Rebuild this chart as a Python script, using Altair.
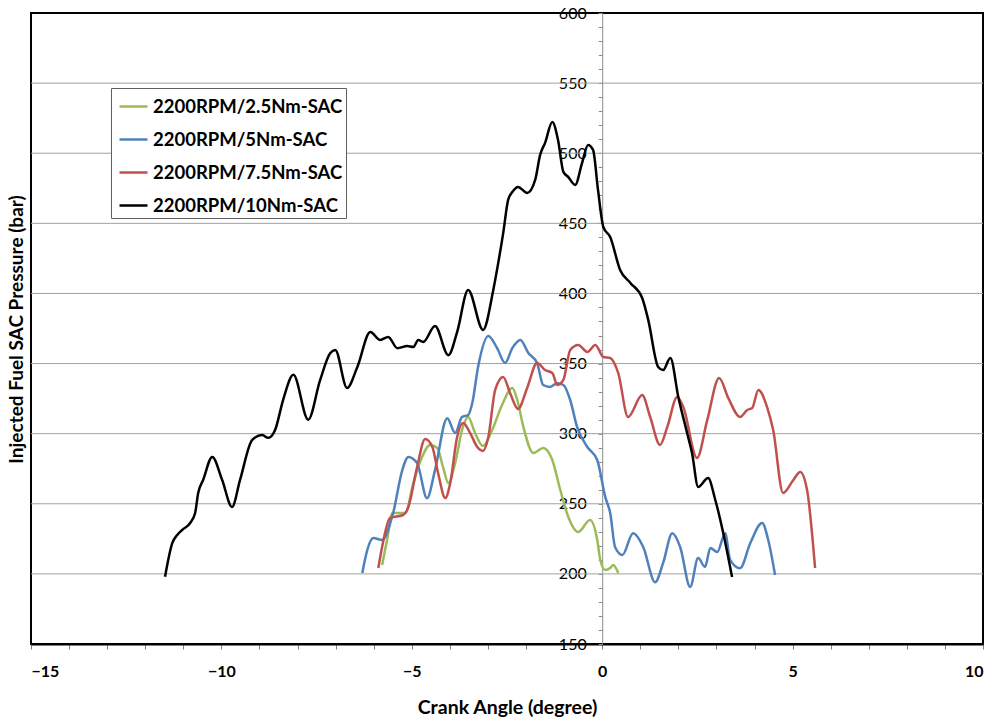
import altair as alt
import pandas as pd

SERIES = ["2200RPM/2.5Nm-SAC", "2200RPM/5Nm-SAC", "2200RPM/7.5Nm-SAC", "2200RPM/10Nm-SAC"]
COLORS = ["#9BBB59", "#4F81BD", "#C0504D", "#000000"]

green_x = [-5.78, -5.65, -5.51, -5.36, -5.17, -4.96, -4.73, -4.52, -4.33, -4.18, -4.04, -3.86, -3.68, -3.52,
           -3.34, -3.13, -2.89, -2.63, -2.36, -2.23, -2.07, -1.81, -1.55, -1.31, -1.10, -0.89, -0.63, -0.32,
           -0.13, -0.05, 0.08, 0.21, 0.29, 0.42]
green_y = [206.3, 224.2, 243.4, 243.4, 243.4, 264.8, 283.4, 291.9, 289.8, 276.2, 264.8, 279.1, 302.6, 311.9,
           300.5, 291.2, 302.6, 320.5, 332.6, 324.0, 304.8, 286.2, 289.8, 281.2, 259.8, 240.6, 229.9, 238.4,
           224.2, 209.9, 202.8, 204.2, 206.3, 200.6]

blue_x = [-6.30, -6.17, -6.01, -5.78, -5.49, -5.25, -5.09, -4.86, -4.60, -4.39, -4.07, -3.86, -3.68, -3.52,
          -3.41, -3.26, -2.99, -2.76, -2.55, -2.36, -2.15, -1.94, -1.71, -1.55, -1.37, -1.18, -1.02, -0.84,
          -0.66, -0.39, -0.13, 0.08, 0.21, 0.34, 0.53, 0.81, 1.08, 1.39, 1.60, 1.84, 2.05, 2.31, 2.52, 2.70,
          2.84, 3.02, 3.23, 3.36, 3.62, 3.89, 4.20, 4.36, 4.54]
blue_y = [200.6, 217.0, 225.6, 224.2, 243.4, 274.0, 283.4, 279.0, 254.0, 274.0, 311.0, 300.5, 312.0, 313.3,
          322.0, 347.6, 369.7, 361.0, 350.4, 361.0, 366.8, 357.6, 350.4, 334.7, 333.3, 336.0, 334.7, 324.0,
          304.8, 290.5, 281.2, 254.9, 243.4, 219.0, 213.5, 229.0, 219.0, 194.0, 207.8, 229.0, 219.0, 190.7,
          211.3, 205.0, 218.5, 215.6, 229.0, 210.0, 204.0, 222.0, 236.3, 224.2, 199.2]

red_x = [-5.88, -5.78, -5.57, -5.23, -5.09, -4.86, -4.65, -4.46, -4.31, -4.12, -3.99, -3.81, -3.65, -3.47,
         -3.28, -3.13, -2.99, -2.81, -2.60, -2.42, -2.21, -1.97, -1.71, -1.50, -1.31, -1.18, -1.02, -0.84,
         -0.63, -0.39, -0.18, 0.03, 0.21, 0.42, 0.68, 1.05, 1.26, 1.52, 1.71, 1.97, 2.13, 2.49, 2.76, 3.07,
         3.31, 3.62, 3.81, 3.94, 4.10, 4.33, 4.49, 4.75, 5.02, 5.20, 5.38, 5.59]
red_y = [204.2, 219.2, 239.9, 242.0, 247.7, 276.2, 296.2, 290.5, 272.0, 254.1, 264.8, 297.6, 307.6, 300.5,
         290.5, 287.7, 297.6, 331.2, 340.4, 329.0, 317.6, 332.6, 350.4, 345.4, 343.3, 334.7, 338.3, 359.7,
         363.3, 358.3, 363.3, 354.7, 354.0, 343.3, 311.9, 327.6, 311.9, 292.0, 304.8, 326.2, 319.0, 282.7,
         309.8, 339.7, 325.5, 311.9, 316.9, 318.3, 331.2, 319.0, 302.6, 257.7, 267.0, 272.7, 259.8, 204.2]

black_x = [-11.48, -11.29, -11.16, -11.03, -10.82, -10.69, -10.61, -10.48, -10.24, -9.98, -9.72, -9.51, -9.19,
           -8.93, -8.77, -8.59, -8.38, -8.11, -7.72, -7.41, -7.14, -7.01, -6.70, -6.43, -6.09, -5.83, -5.62,
           -5.38, -5.12, -4.96, -4.83, -4.70, -4.39, -4.04, -3.81, -3.52, -3.13, -2.86, -2.73, -2.60, -2.47,
           -2.36, -2.21, -1.97, -1.76, -1.63, -1.50, -1.31, -1.16, -1.02, -0.89, -0.71, -0.53, -0.37, -0.24,
           -0.11, 0.03, 0.21, 0.47, 0.74, 1.05, 1.21, 1.47, 1.60, 1.79, 2.00, 2.23, 2.36, 2.52, 2.78, 2.97,
           3.18, 3.41]
black_y = [198.0, 222.0, 227.7, 231.3, 236.3, 243.4, 257.7, 267.0, 283.4, 267.0, 247.7, 267.0, 295.5,
           299.0, 297.0, 302.6, 324.0, 342.0, 310.0, 338.0, 357.5, 359.7, 332.6, 347.6, 372.5, 366.8, 369.0,
           361.0, 362.5, 361.8, 366.8, 365.4, 376.8, 356.0, 372.5, 402.5, 374.0, 402.5, 421.8, 443.0, 466.7,
           472.4, 476.0, 471.7, 481.0, 498.8, 507.4, 522.3, 509.5, 486.7, 483.0, 477.4, 493.0, 505.9, 502.4,
           473.8, 447.4, 440.3, 416.8, 407.5, 396.8, 381.0, 347.6, 345.4, 354.0, 326.0, 300.5, 286.0, 262.0,
           268.4, 252.7, 229.0, 197.8]

GRID_VALUES = [200, 250, 300, 350, 400, 450, 500, 550]
X_TICKS = list(range(-15, 11))
Y_TICKS = list(range(150, 601, 10))

frames = []
for name, xs, ys in zip(SERIES, [green_x, blue_x, red_x, black_x], [green_y, blue_y, red_y, black_y]):
    frames.append(pd.DataFrame({"angle": xs, "pressure": ys, "series": name}))
df = pd.concat(frames, ignore_index=True)
df["order"] = range(len(df))

W, H = 952, 631
xscale = alt.Scale(domain=[-15, 10], nice=False, zero=False)
yscale = alt.Scale(domain=[150, 600], nice=False, zero=False)
zero_px = W * 15 / 25.0

y_axis = alt.Axis(
    values=Y_TICKS,
    labelExpr="datum.value % 50 === 0 ? datum.label : ''",
    title="Injected Fuel SAC Pressure (bar)",
    grid=False,
    offset=-zero_px,
    domainColor="#8C8C8C", domainWidth=1,
    tickColor="#8C8C8C", tickSize=4,
    labelPadding=12, labelFont="Lato", labelFontSize=16, labelColor="black",
    titleFont="Lato", titleFontSize=19, titleFontWeight="bold", titleColor="black",
    titleX=-586, titleY=316, titleAngle=270, titleAlign="center", titleBaseline="middle",
)

grid = alt.Chart(pd.DataFrame({"pressure": GRID_VALUES})).mark_rule(color="#A0A0A0", strokeWidth=1).encode(
    y=alt.Y("pressure:Q", scale=yscale, axis=y_axis)
)

lines = alt.Chart(df).mark_line(strokeWidth=2.5, interpolate="monotone").encode(
    x=alt.X("angle:Q", scale=xscale, axis=alt.Axis(
        values=X_TICKS,
        labelExpr="datum.value % 5 === 0 ? datum.label : ''",
        title="Crank Angle (degree)",
        grid=False,
        domainColor="black", domainWidth=2,
        tickColor="#808080", tickSize=5, tickWidth=1,
        labelPadding=14, labelFont="Lato", labelFontSize=16, labelFontWeight="bold", labelColor="black",
        titleFont="Lato", titleFontSize=19.5, titleFontWeight="bold", titleColor="black", titlePadding=19,
    )),
    y=alt.Y("pressure:Q", scale=yscale, axis=y_axis),
    color=alt.Color("series:N", scale=alt.Scale(domain=SERIES, range=COLORS), legend=alt.Legend(
        title=None, orient="none", legendX=80, legendY=75,
        fillColor="white", strokeColor="#606060", padding=3,
        symbolType="stroke", symbolSize=784, symbolStrokeWidth=2.5, symbolOffset=4,
        labelFont="Lato", labelFontSize=18.5, labelFontWeight="bold", labelColor="black",
        labelOffset=4, rowPadding=8, labelLimit=400,
    )),
    order="order:Q",
)

chart = alt.layer(grid, lines).properties(
    width=W, height=H,
    padding={"left": 31, "top": 13, "right": 12, "bottom": 78},
    autosize=alt.AutoSizeParams(type="none"),
    background="white",
).configure_view(stroke="black", strokeWidth=2)

chart.save("out.html", embed_options={"renderer": "svg", "actions": False})
